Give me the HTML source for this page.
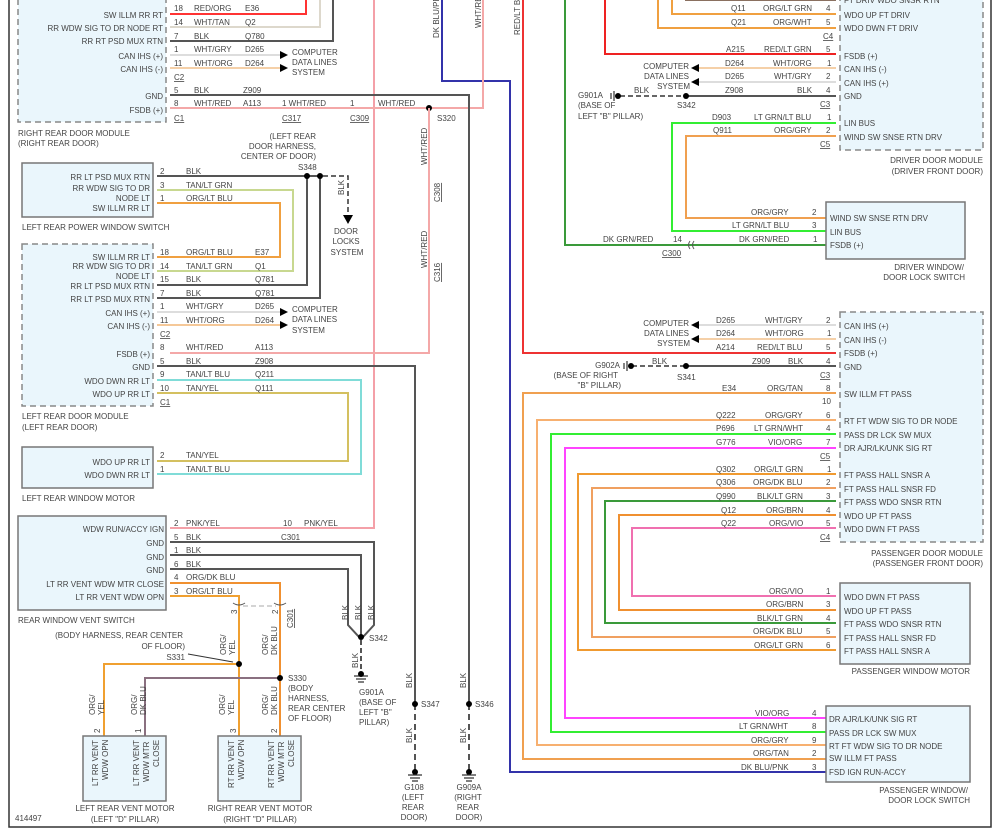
<!DOCTYPE html>
<html><head><meta charset="utf-8"><style>
html,body{margin:0;padding:0;background:#fff;}
svg{display:block;font-family:"Liberation Sans",sans-serif;font-size:8px;fill:#444;}
.w{fill:none;stroke-width:2;}
.bx{fill:#eaf6fc;stroke:#777;stroke-width:1.5;}
.db{fill:#eaf6fc;stroke:#888;stroke-width:1.5;stroke-dasharray:6,4;}
.r{text-anchor:end;}
.m{text-anchor:middle;}
.u{text-decoration:underline;}
.pin{fill:none;stroke:#555;stroke-width:1;}
</style></head><body>
<svg width="1000" height="836" viewBox="0 0 1000 836" xmlns="http://www.w3.org/2000/svg">
<!-- frame -->
<polyline points="9,0 9,827 991,827 991,0" fill="none" stroke="#333" stroke-width="1.5"/>

<!-- ===== long verticals ===== -->
<polyline class="w" stroke="#f4a0a8" points="170,528 374,528 374,0"/>
<polyline class="w" stroke="#33a" points="442,0 442,81 510,81 510,772 826,772"/>
<polyline class="w" stroke="#f4a8a8" points="170,108 483,108 483,0"/>
<polyline class="w" stroke="#e33" points="523,0 523,353 836,353"/>
<polyline class="w" stroke="#3a9a3a" points="565,0 565,245 826,245"/>
<polyline class="w" stroke="#555" points="170,95 469,95 469,704"/>
<line x1="469" y1="704" x2="469" y2="770" stroke="#555" stroke-width="2" stroke-dasharray="6,4"/>

<!-- ===== Right rear door module ===== -->
<rect class="db" x="18" y="-5" width="148" height="127"/>
<g class="r">
<text x="163" y="18">SW ILLM RR RT</text>
<text x="163" y="31">RR WDW SIG TO DR NODE RT</text>
<text x="163" y="44">RR RT PSD MUX RTN</text>
<text x="163" y="59">CAN IHS (+)</text>
<text x="163" y="72">CAN IHS (-)</text>
<text x="163" y="99">GND</text>
<text x="163" y="113">FSDB (+)</text>
</g>
<polyline class="w" stroke="#f33" points="170,14 306,14 306,0"/>
<polyline class="w" stroke="#ddd8cc" points="170,27 320,27 320,0"/>
<polyline class="w" stroke="#555" points="170,41 333,41 333,0"/>
<line class="w" stroke="#ddd" x1="170" y1="55" x2="280" y2="55"/>
<line class="w" stroke="#f5d0a8" x1="170" y1="68" x2="280" y2="68"/>
<path d="M280,51 L288,55 L280,59Z M280,64 L288,68 L280,72Z" fill="#000"/>
<text x="292" y="55">COMPUTER</text><text x="292" y="65">DATA LINES</text><text x="292" y="75">SYSTEM</text>
<text x="174" y="11">18</text><text x="194" y="11">RED/ORG</text><text x="245" y="11">E36</text>
<text x="174" y="25">14</text><text x="194" y="25">WHT/TAN</text><text x="245" y="25">Q2</text>
<text x="174" y="39">7</text><text x="194" y="39">BLK</text><text x="245" y="39">Q780</text>
<text x="174" y="52">1</text><text x="194" y="52">WHT/GRY</text><text x="245" y="52">D265</text>
<text x="174" y="66">11</text><text x="194" y="66">WHT/ORG</text><text x="245" y="66">D264</text>
<text x="174" y="80" class="u">C2</text>
<text x="174" y="93">5</text><text x="194" y="93">BLK</text><text x="243" y="93">Z909</text>
<text x="174" y="106">8</text><text x="194" y="106">WHT/RED</text><text x="243" y="106">A113</text>
<text x="174" y="121" class="u">C1</text>
<text x="282" y="106">1 WHT/RED</text><text x="282" y="121" class="u">C317</text>
<text x="350" y="106">1</text><text x="350" y="121" class="u">C309</text>
<text x="378" y="106">WHT/RED</text>
<text x="437" y="121">S320</text>
<circle cx="429" cy="108" r="3" fill="#000"/>
<text x="18" y="136">RIGHT REAR DOOR MODULE</text><text x="18" y="146">(RIGHT REAR DOOR)</text>
<polyline class="w" stroke="#f4a8a8" points="429,108 429,353 170,353"/>
<text transform="translate(427,165) rotate(-90)">WHT/RED</text>
<text transform="translate(427,268) rotate(-90)">WHT/RED</text>
<text transform="translate(440,202) rotate(-90)" class="u">C308</text>
<text transform="translate(440,282) rotate(-90)" class="u">C316</text>

<!-- ===== Left rear power window switch ===== -->
<rect class="bx" x="22" y="163" width="131" height="54"/>
<g class="r">
<text x="150" y="180">RR LT PSD MUX RTN</text>
<text x="150" y="191">RR WDW SIG TO DR</text>
<text x="150" y="201">NODE LT</text>
<text x="150" y="211">SW ILLM RR LT</text>
</g>
<text x="22" y="230">LEFT REAR POWER WINDOW SWITCH</text>
<text class="r" x="316" y="139">(LEFT REAR</text><text class="r" x="316" y="149">DOOR HARNESS,</text><text class="r" x="316" y="159">CENTER OF DOOR)</text>
<text x="298" y="170">S348</text>
<polyline class="w" stroke="#c8d890" points="157,190 293,190 293,271 157,271"/>
<polyline class="w" stroke="#f0a040" points="157,203 280,203 280,257 157,257"/>
<polyline class="w" stroke="#555" points="157,176 320,176 320,298 157,298"/>
<polyline class="w" stroke="#555" points="307,176 307,285 157,285"/>
<circle cx="307" cy="176" r="3" fill="#000"/><circle cx="320" cy="176" r="3" fill="#000"/>
<polyline fill="none" stroke="#333" stroke-width="1.5" stroke-dasharray="5,3" points="323,176 348,176 348,215"/>
<path d="M343,215 L353,215 L348,224Z" fill="#000"/>
<text transform="translate(344,195) rotate(-90)">BLK</text>
<text class="m" x="346" y="234">DOOR</text><text class="m" x="346" y="244">LOCKS</text><text class="m" x="347" y="255">SYSTEM</text>
<text x="160" y="174">2</text><text x="186" y="174">BLK</text>
<text x="160" y="188">3</text><text x="186" y="188">TAN/LT GRN</text>
<text x="160" y="201">1</text><text x="186" y="201">ORG/LT BLU</text>

<!-- ===== Left rear door module ===== -->
<rect class="db" x="22" y="244" width="131" height="162"/>
<g class="r">
<text x="150" y="260">SW ILLM RR LT</text>
<text x="150" y="269">RR WDW SIG TO DR</text>
<text x="150" y="279">NODE LT</text>
<text x="150" y="289">RR LT PSD MUX RTN</text>
<text x="150" y="302">RR LT PSD MUX RTN</text>
<text x="150" y="316">CAN IHS (+)</text>
<text x="150" y="329">CAN IHS (-)</text>
<text x="150" y="357">FSDB (+)</text>
<text x="150" y="370">GND</text>
<text x="150" y="384">WDO DWN RR LT</text>
<text x="150" y="397">WDO UP RR LT</text>
</g>
<line class="w" stroke="#ddd" x1="157" y1="312" x2="280" y2="312"/>
<line class="w" stroke="#f5c898" x1="157" y1="325" x2="280" y2="325"/>
<path d="M280,308 L288,312 L280,316Z M280,321 L288,325 L280,329Z" fill="#000"/>
<text x="292" y="312">COMPUTER</text><text x="292" y="322">DATA LINES</text><text x="292" y="333">SYSTEM</text>
<polyline class="w" stroke="#555" points="157,366 415,366 415,704"/>
<line x1="415" y1="704" x2="415" y2="770" stroke="#555" stroke-width="2" stroke-dasharray="6,4"/>
<polyline class="w" stroke="#80dcd8" points="157,380 361,380 361,474 157,474"/>
<polyline class="w" stroke="#d4c060" points="157,393 348,393 348,461 157,461"/>
<text x="160" y="255">18</text><text x="186" y="255">ORG/LT BLU</text><text x="255" y="255">E37</text>
<text x="160" y="269">14</text><text x="186" y="269">TAN/LT GRN</text><text x="255" y="269">Q1</text>
<text x="160" y="282">15</text><text x="186" y="282">BLK</text><text x="255" y="282">Q781</text>
<text x="160" y="296">7</text><text x="186" y="296">BLK</text><text x="255" y="296">Q781</text>
<text x="160" y="309">1</text><text x="186" y="309">WHT/GRY</text><text x="255" y="309">D265</text>
<text x="160" y="323">11</text><text x="186" y="323">WHT/ORG</text><text x="255" y="323">D264</text>
<text x="160" y="337" class="u">C2</text>
<text x="160" y="350">8</text><text x="186" y="350">WHT/RED</text><text x="255" y="350">A113</text>
<text x="160" y="364">5</text><text x="186" y="364">BLK</text><text x="255" y="364">Z908</text>
<text x="160" y="377">9</text><text x="186" y="377">TAN/LT BLU</text><text x="255" y="377">Q211</text>
<text x="160" y="391">10</text><text x="186" y="391">TAN/YEL</text><text x="255" y="391">Q111</text>
<text x="160" y="405" class="u">C1</text>
<text x="22" y="419">LEFT REAR DOOR MODULE</text><text x="22" y="430">(LEFT REAR DOOR)</text>

<!-- ===== Left rear window motor ===== -->
<rect class="bx" x="22" y="447" width="131" height="41"/>
<text class="r" x="150" y="465">WDO UP RR LT</text><text class="r" x="150" y="478">WDO DWN RR LT</text>
<text x="160" y="458">2</text><text x="186" y="458">TAN/YEL</text>
<text x="160" y="472">1</text><text x="186" y="472">TAN/LT BLU</text>
<text x="22" y="501">LEFT REAR WINDOW MOTOR</text>

<!-- ===== Rear window vent switch ===== -->
<rect class="bx" x="18" y="516" width="148" height="94"/>
<g class="r">
<text x="164" y="532">WDW RUN/ACCY IGN</text>
<text x="164" y="546">GND</text><text x="164" y="560">GND</text><text x="164" y="573">GND</text>
<text x="164" y="587">LT RR VENT WDW MTR CLOSE</text>
<text x="164" y="600">LT RR VENT WDW OPN</text>
</g>
<text x="18" y="623">REAR WINDOW VENT SWITCH</text>
<text x="174" y="526">2</text><text x="186" y="526">PNK/YEL</text>
<text x="283" y="526">10</text><text x="304" y="526">PNK/YEL</text><text x="281" y="540" class="u">C301</text>
<text x="174" y="540">5</text><text x="186" y="540">BLK</text>
<text x="174" y="553">1</text><text x="186" y="553">BLK</text>
<text x="174" y="567">6</text><text x="186" y="567">BLK</text>
<text x="174" y="580">4</text><text x="186" y="580">ORG/DK BLU</text>
<text x="174" y="594">3</text><text x="186" y="594">ORG/LT BLU</text>
<polyline class="w" stroke="#555" points="170,542 374,542 374,625 363,637"/>
<polyline class="w" stroke="#555" points="170,555 361,555 361,637"/>
<polyline class="w" stroke="#555" points="170,569 348,569 348,625 359,637"/>
<circle cx="361" cy="637" r="3" fill="#000"/><text x="369" y="641">S342</text>
<text transform="translate(348,620) rotate(-90)">BLK</text>
<text transform="translate(361,620) rotate(-90)">BLK</text>
<text transform="translate(374,620) rotate(-90)">BLK</text>
<line x1="361" y1="640" x2="361" y2="672" stroke="#555" stroke-width="2" stroke-dasharray="5,3"/>
<text transform="translate(358,668) rotate(-90)">BLK</text>
<path d="M354,676 h14 M356,679 h10 M358,682 h6" stroke="#333" stroke-width="1.2"/>
<circle cx="361" cy="674" r="3" fill="#000"/>
<text x="359" y="695">G901A</text><text x="359" y="705">(BASE OF</text><text x="359" y="715">LEFT "B"</text><text x="359" y="725">PILLAR)</text>
<polyline class="w" stroke="#f09030" points="170,583 280,583 280,737"/>
<polyline class="w" stroke="#f0a030" points="170,596 239,596 239,737"/>
<line x1="243" y1="606" x2="276" y2="606" stroke="#bbb" stroke-width="1.2" stroke-dasharray="5,3"/>
<path d="M233,603 q6,4 12,0 M274,603 q6,4 12,0" class="pin"/>
<text transform="translate(237,614) rotate(-90)">3</text>
<text transform="translate(278,614) rotate(-90)">2</text>
<text transform="translate(293,628) rotate(-90)" class="u">C301</text>
<text transform="translate(226,655) rotate(-90)">ORG/</text>
<text transform="translate(235,655) rotate(-90)">YEL</text>
<text transform="translate(268,655) rotate(-90)">ORG/</text>
<text transform="translate(277,655) rotate(-90)">DK BLU</text>
<polyline class="w" stroke="#f0a030" points="239,664 104,664 104,737"/>
<polyline class="w" stroke="#8a7080" points="280,678 145,678 145,737"/>
<circle cx="239" cy="664" r="3" fill="#000"/><circle cx="280" cy="678" r="3" fill="#000"/>
<text class="r" x="183" y="638">(BODY HARNESS, REAR CENTER</text><text class="r" x="185" y="649">OF FLOOR)</text>
<text class="r" x="185" y="660">S331</text>
<line x1="188" y1="654" x2="233" y2="662" stroke="#333"/>
<text x="288" y="681">S330</text><text x="288" y="691">(BODY</text><text x="288" y="701">HARNESS,</text><text x="288" y="711">REAR CENTER</text><text x="288" y="721">OF FLOOR)</text>
<text transform="translate(95,715) rotate(-90)">ORG/</text><text transform="translate(104,715) rotate(-90)">YEL</text>
<text transform="translate(137,715) rotate(-90)">ORG/</text><text transform="translate(146,715) rotate(-90)">DK BLU</text>
<text transform="translate(225,715) rotate(-90)">ORG/</text><text transform="translate(234,715) rotate(-90)">YEL</text>
<text transform="translate(268,715) rotate(-90)">ORG/</text><text transform="translate(277,715) rotate(-90)">DK BLU</text>
<!-- vent motors -->
<rect class="bx" x="83" y="736" width="83" height="65"/>
<rect class="bx" x="218" y="736" width="83" height="65"/>
<text transform="translate(100,733) rotate(-90)">2</text><text transform="translate(141,733) rotate(-90)">1</text>
<text transform="translate(236,733) rotate(-90)">3</text><text transform="translate(277,733) rotate(-90)">2</text>
<g>
<text transform="translate(98,786) rotate(-90)">LT RR VENT</text><text transform="translate(108,780) rotate(-90)">WDW OPN</text>
<text transform="translate(139,786) rotate(-90)">LT RR VENT</text><text transform="translate(149,782) rotate(-90)">WDW MTR</text><text transform="translate(159,767) rotate(-90)">CLOSE</text>
<text transform="translate(234,788) rotate(-90)">RT RR VENT</text><text transform="translate(244,780) rotate(-90)">WDW OPN</text>
<text transform="translate(274,788) rotate(-90)">RT RR VENT</text><text transform="translate(284,782) rotate(-90)">WDW MTR</text><text transform="translate(294,767) rotate(-90)">CLOSE</text>
</g>
<text class="m" x="125" y="811">LEFT REAR VENT MOTOR</text><text class="m" x="125" y="822">(LEFT "D" PILLAR)</text>
<text class="m" x="260" y="811">RIGHT REAR VENT MOTOR</text><text class="m" x="260" y="822">(RIGHT "D" PILLAR)</text>
<text x="15" y="821">414497</text>

<!-- grounds S347/S346 -->
<circle cx="415" cy="704" r="3" fill="#000"/><text x="421" y="707">S347</text>
<circle cx="469" cy="704" r="3" fill="#000"/><text x="475" y="707">S346</text>
<text transform="translate(412,688) rotate(-90)">BLK</text><text transform="translate(466,688) rotate(-90)">BLK</text>
<text transform="translate(412,743) rotate(-90)">BLK</text><text transform="translate(466,743) rotate(-90)">BLK</text>
<circle cx="415" cy="772" r="3" fill="#000"/><circle cx="469" cy="772" r="3" fill="#000"/>
<path d="M408,775 h14 M410,778 h10 M412,781 h6 M462,775 h14 M464,778 h10 M466,781 h6" stroke="#333" stroke-width="1.2"/>
<text class="m" x="414" y="790">G108</text><text class="m" x="413" y="800">(LEFT</text><text class="m" x="413" y="810">REAR</text><text class="m" x="414" y="820">DOOR)</text>
<text class="m" x="469" y="790">G909A</text><text class="m" x="468" y="800">(RIGHT</text><text class="m" x="468" y="810">REAR</text><text class="m" x="469" y="820">DOOR)</text>

<text transform="translate(439,38) rotate(-90)">DK BLU/PNK</text>
<text transform="translate(481,28) rotate(-90)">WHT/RED</text>
<text transform="translate(520,35) rotate(-90)">RED/LT BLU</text>

<!-- ===== Driver door module ===== -->
<rect class="db" x="840" y="-5" width="143" height="155"/>
<g>
<text x="844" y="3">FT DRIV WDO SNSR RTN</text>
<text x="844" y="18">WDO UP FT DRIV</text>
<text x="844" y="31">WDO DWN FT DRIV</text>
<text x="844" y="59">FSDB (+)</text>
<text x="844" y="72">CAN IHS (-)</text>
<text x="844" y="86">CAN IHS (+)</text>
<text x="844" y="99">GND</text>
<text x="844" y="126">LIN BUS</text>
<text x="844" y="140">WIND SW SNSE RTN DRV</text>
</g>
<text class="r" x="983" y="163">DRIVER DOOR MODULE</text><text class="r" x="983" y="174">(DRIVER FRONT DOOR)</text>
<line class="w" stroke="#8a7060" x1="685" y1="0" x2="836" y2="0"/>
<polyline class="w" stroke="#f0a040" points="672,0 672,14 836,14"/>
<polyline class="w" stroke="#f0a040" points="658,0 658,28 836,28"/>
<polyline class="w" stroke="#e22" points="605,0 605,54 836,54"/>
<line class="w" stroke="#f5d0a8" x1="698" y1="68" x2="836" y2="68"/>
<line class="w" stroke="#ddd" x1="698" y1="82" x2="836" y2="82"/>
<path d="M699,64 L691,68 L699,72Z M699,78 L691,82 L699,86Z" fill="#000"/>
<text class="r" x="689" y="69">COMPUTER</text><text class="r" x="689" y="79">DATA LINES</text><text class="r" x="690" y="89">SYSTEM</text>
<line class="w" stroke="#555" x1="686" y1="96" x2="836" y2="96"/>
<line x1="620" y1="96" x2="686" y2="96" stroke="#333" stroke-width="1.5" stroke-dasharray="5,3"/>
<circle cx="686" cy="96" r="3" fill="#000"/><circle cx="618" cy="96" r="3" fill="#000"/>
<path d="M614,91 v10 M611,93 v6" stroke="#333" stroke-width="1.2"/>
<text x="578" y="98">G901A</text><text x="578" y="108">(BASE OF</text><text x="578" y="119">LEFT "B" PILLAR)</text>
<text x="634" y="93">BLK</text><text x="677" y="108">S342</text>
<polyline class="w" stroke="#33ee33" points="836,123 672,123 672,231 826,231"/>
<polyline class="w" stroke="#f0a050" points="836,136 686,136 686,218 826,218"/>
<text x="731" y="11">Q11</text><text x="763" y="11">ORG/LT GRN</text><text x="826" y="11">4</text>
<text x="731" y="25">Q21</text><text x="773" y="25">ORG/WHT</text><text x="826" y="25">5</text>
<text x="823" y="39" class="u">C4</text>
<text x="726" y="52">A215</text><text x="764" y="52">RED/LT GRN</text><text x="826" y="52">5</text>
<text x="725" y="66">D264</text><text x="773" y="66">WHT/ORG</text><text x="827" y="66">1</text>
<text x="725" y="79">D265</text><text x="774" y="79">WHT/GRY</text><text x="826" y="79">2</text>
<text x="725" y="93">Z908</text><text x="797" y="93">BLK</text><text x="826" y="93">4</text>
<text x="820" y="107" class="u">C3</text>
<text x="712" y="120">D903</text><text x="754" y="120">LT GRN/LT BLU</text><text x="827" y="120">1</text>
<text x="713" y="133">Q911</text><text x="774" y="133">ORG/GRY</text><text x="826" y="133">2</text>
<text x="820" y="147" class="u">C5</text>
<!-- driver window switch -->
<rect class="bx" x="826" y="202" width="139" height="57"/>
<text x="830" y="221">WIND SW SNSE RTN DRV</text><text x="830" y="235">LIN BUS</text><text x="830" y="248">FSDB (+)</text>
<text class="r" x="964" y="270">DRIVER WINDOW/</text><text class="r" x="965" y="280">DOOR LOCK SWITCH</text>
<text x="751" y="215">ORG/GRY</text><text x="812" y="215">2</text>
<text x="732" y="228">LT GRN/LT BLU</text><text x="812" y="228">3</text>
<text x="739" y="242">DK GRN/RED</text><text x="813" y="242">1</text>
<text x="603" y="242">DK GRN/RED</text><text x="673" y="242">14</text>
<text x="662" y="256" class="u">C300</text>
<path d="M690,241 q-3,4 0,8 M694,241 q-3,4 0,8" class="pin"/>

<!-- ===== Passenger door module ===== -->
<rect class="db" x="840" y="312" width="143" height="230"/>
<g>
<text x="844" y="329">CAN IHS (+)</text><text x="844" y="343">CAN IHS (-)</text><text x="844" y="356">FSDB (+)</text><text x="844" y="370">GND</text>
<text x="844" y="397">SW ILLM FT PASS</text>
<text x="844" y="424">RT FT WDW SIG TO DR NODE</text>
<text x="844" y="438">PASS DR LCK SW MUX</text>
<text x="844" y="451">DR AJR/LK/UNK SIG RT</text>
<text x="844" y="478">FT PASS HALL SNSR A</text>
<text x="844" y="492">FT PASS HALL SNSR FD</text>
<text x="844" y="505">FT PASS WDO SNSR RTN</text>
<text x="844" y="519">WDO UP FT PASS</text>
<text x="844" y="532">WDO DWN FT PASS</text>
</g>
<text class="r" x="983" y="556">PASSENGER DOOR MODULE</text><text class="r" x="983" y="566">(PASSENGER FRONT DOOR)</text>
<line class="w" stroke="#ddd" x1="698" y1="325" x2="836" y2="325"/>
<line class="w" stroke="#f5d0a8" x1="698" y1="339" x2="836" y2="339"/>
<path d="M699,321 L691,325 L699,329Z M699,335 L691,339 L699,343Z" fill="#000"/>
<text class="r" x="689" y="326">COMPUTER</text><text class="r" x="689" y="336">DATA LINES</text><text class="r" x="690" y="346">SYSTEM</text>
<line class="w" stroke="#555" x1="686" y1="366" x2="836" y2="366"/>
<line x1="632" y1="366" x2="686" y2="366" stroke="#333" stroke-width="1.5" stroke-dasharray="5,3"/>
<circle cx="686" cy="366" r="3" fill="#000"/><circle cx="631" cy="366" r="3" fill="#000"/>
<path d="M627,361 v10 M624,363 v6" stroke="#333" stroke-width="1.2"/>
<text class="r" x="620" y="368">G902A</text><text class="r" x="618" y="378">(BASE OF RIGHT</text><text class="r" x="621" y="388">"B" PILLAR)</text>
<text x="652" y="364">BLK</text><text x="677" y="380">S341</text>
<polyline class="w" stroke="#f0a050" points="836,393 523,393 523,759 826,759"/>
<polyline class="w" stroke="#f7b070" points="836,420 537,420 537,745 826,745"/>
<polyline class="w" stroke="#33ee33" points="836,434 551,434 551,732 826,732"/>
<polyline class="w" stroke="#f4f" points="836,448 565,448 565,718 826,718"/>
<polyline class="w" stroke="#f09a30" points="836,474 578,474 578,650 836,650"/>
<polyline class="w" stroke="#f0a060" points="836,488 592,488 592,637 836,637"/>
<polyline class="w" stroke="#3a9a3a" points="836,501 605,501 605,623 836,623"/>
<polyline class="w" stroke="#f09030" points="836,515 619,515 619,610 836,610"/>
<polyline class="w" stroke="#f070b0" points="836,528 632,528 632,596 836,596"/>
<text x="716" y="323">D265</text><text x="765" y="323">WHT/GRY</text><text x="826" y="323">2</text>
<text x="716" y="336">D264</text><text x="765" y="336">WHT/ORG</text><text x="827" y="336">1</text>
<text x="716" y="350">A214</text><text x="757" y="350">RED/LT BLU</text><text x="826" y="350">5</text>
<text x="752" y="364">Z909</text><text x="788" y="364">BLK</text><text x="826" y="364">4</text>
<text x="820" y="378" class="u">C3</text>
<text x="722" y="391">E34</text><text x="767" y="391">ORG/TAN</text><text x="826" y="391">8</text>
<text x="822" y="404">10</text>
<text x="716" y="418">Q222</text><text x="765" y="418">ORG/GRY</text><text x="826" y="418">6</text>
<text x="716" y="431">P696</text><text x="754" y="431">LT GRN/WHT</text><text x="826" y="431">4</text>
<text x="716" y="445">G776</text><text x="768" y="445">VIO/ORG</text><text x="826" y="445">7</text>
<text x="820" y="459" class="u">C5</text>
<text x="716" y="472">Q302</text><text x="754" y="472">ORG/LT GRN</text><text x="827" y="472">1</text>
<text x="716" y="485">Q306</text><text x="753" y="485">ORG/DK BLU</text><text x="826" y="485">2</text>
<text x="716" y="499">Q990</text><text x="757" y="499">BLK/LT GRN</text><text x="826" y="499">3</text>
<text x="721" y="513">Q12</text><text x="766" y="513">ORG/BRN</text><text x="826" y="513">4</text>
<text x="721" y="526">Q22</text><text x="769" y="526">ORG/VIO</text><text x="826" y="526">5</text>
<text x="820" y="540" class="u">C4</text>
<!-- passenger window motor -->
<rect class="bx" x="840" y="583" width="130" height="81"/>
<text x="844" y="600">WDO DWN FT PASS</text><text x="844" y="614">WDO UP FT PASS</text><text x="844" y="627">FT PASS WDO SNSR RTN</text><text x="844" y="641">FT PASS HALL SNSR FD</text><text x="844" y="654">FT PASS HALL SNSR A</text>
<text class="r" x="970" y="674">PASSENGER WINDOW MOTOR</text>
<text x="769" y="594">ORG/VIO</text><text x="826" y="594">1</text>
<text x="766" y="607">ORG/BRN</text><text x="826" y="607">3</text>
<text x="757" y="621">BLK/LT GRN</text><text x="826" y="621">4</text>
<text x="753" y="634">ORG/DK BLU</text><text x="826" y="634">5</text>
<text x="754" y="648">ORG/LT GRN</text><text x="826" y="648">6</text>
<!-- passenger window switch -->
<rect class="bx" x="826" y="706" width="144" height="76"/>
<text x="829" y="722">DR AJR/LK/UNK SIG RT</text><text x="829" y="736">PASS DR LCK SW MUX</text><text x="829" y="749">RT FT WDW SIG TO DR NODE</text><text x="829" y="761">SW ILLM FT PASS</text><text x="829" y="775">FSD IGN RUN-ACCY</text>
<text class="r" x="968" y="793">PASSENGER WINDOW/</text><text class="r" x="970" y="803">DOOR LOCK SWITCH</text>
<text x="755" y="716">VIO/ORG</text><text x="812" y="716">4</text>
<text x="739" y="729">LT GRN/WHT</text><text x="812" y="729">8</text>
<text x="751" y="743">ORG/GRY</text><text x="812" y="743">9</text>
<text x="753" y="756">ORG/TAN</text><text x="812" y="756">2</text>
<text x="741" y="770">DK BLU/PNK</text><text x="812" y="770">3</text>
</svg>
</body></html>
